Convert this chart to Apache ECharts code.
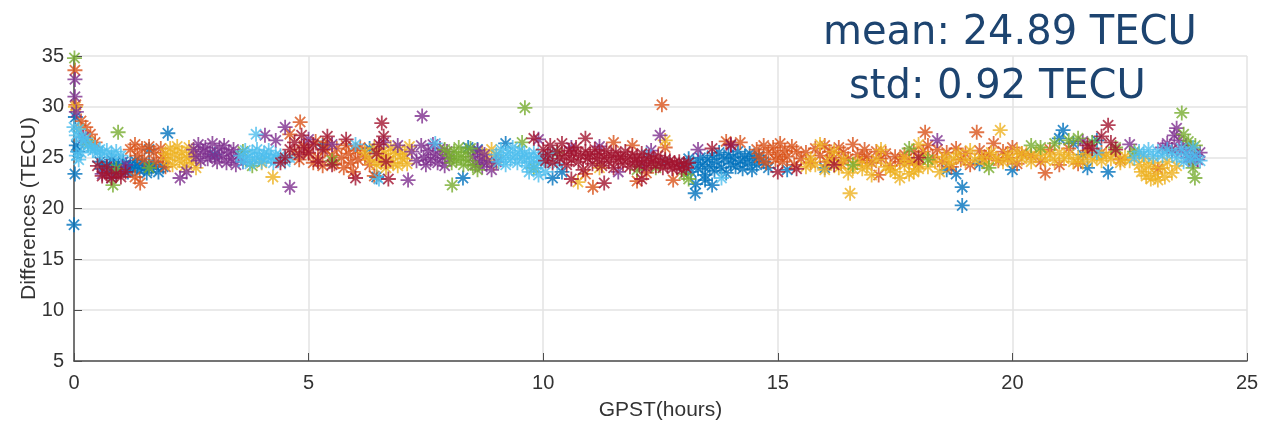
<!DOCTYPE html>
<html>
<head>
<meta charset="utf-8">
<script src="https://cdn.jsdelivr.net/npm/echarts@6/dist/echarts.min.js"></script>
<style>
  html, body { margin: 0; padding: 0; background: #fff; }
  #chart { width: 1263px; height: 426px; }
</style>
</head>
<body>
<div id="chart"></div>
<script>
// [hours, TECU], one list per satellite colour
const blueDots = [
  [0,18.4],[0.02,23.4],[0.03,29.0],[0.05,26.2],[0.08,25.6],
  [0.55,24.6],[0.6,23.9],[0.7,24.3],[0.75,23.6],[0.8,24.8],[0.85,24.0],[0.9,23.5],[0.95,24.4],[1.0,23.8],[1.05,24.6],
  [1.1,24.1],[1.15,23.6],[1.2,24.3],[1.25,23.9],[1.3,24.7],[1.35,24.2],[1.4,23.7],[1.45,24.5],[1.5,24.0],[1.55,23.5],
  [1.6,24.4],[1.65,23.9],[1.7,24.3],[1.8,23.6],[1.9,24.1],
  [2.0,27.4],[1.6,25.8],[3.0,25.3],[5.3,26.2],[6.3,25.9],[6.45,23.1],[8.29,23.0],[8.4,26.0],[8.6,25.8],[9.2,26.4],
  [10.2,23.0],[10.4,23.6],
  [13.0,24.2],[13.1,24.9],[13.15,23.6],[13.2,24.5],[13.24,21.5],[13.25,22.4],[13.3,23.9],[13.35,25.0],[13.4,24.3],
  [13.45,23.3],[13.5,24.8],[13.55,24.1],[13.6,25.2],[13.65,23.7],[13.7,24.6],[13.75,25.5],[13.8,24.0],[13.85,24.9],
  [13.9,23.5],[13.95,25.3],[14.0,24.4],[14.05,25.0],[14.1,24.1],[14.15,25.6],[14.2,24.7],[14.25,23.9],[14.3,25.1],
  [14.35,24.5],[14.4,25.4],[14.45,23.8],[14.5,24.9],[14.55,24.3],[14.6,25.2],[14.7,24.6],[14.8,24.0],[13.45,22.8],[13.6,22.3],
  [15.2,23.8],[16.0,24.0],[18.6,23.8],[18.93,20.3],[18.93,22.1],[18.8,23.4],[19.3,24.4],[20.0,23.8],[21.08,27.7],
  [21.0,26.9],[21.3,26.4],[21.6,24.0],[22.04,23.6],[21.8,26.7],[21.5,25.3]
];
const orangeDots = [
  [0.02,33.6],[0.04,30.2],[0.15,28.6],[0.25,28.0],[0.35,27.3],[0.45,26.5],
  [1.2,25.8],[1.3,26.3],[1.35,25.2],[1.45,25.9],[1.5,24.8],[1.6,26.1],[1.7,25.5],[1.75,24.6],[1.85,25.9],[1.9,25.0],
  [1.41,22.5],[1.3,23.1],[1.95,24.1],
  [4.82,28.5],[4.6,27.3],[4.7,25.6],[4.8,24.8],[4.9,26.2],[5.0,25.4],[5.1,24.5],[5.15,26.6],[5.2,25.0],[5.3,24.2],
  [5.35,25.8],[5.4,26.5],[5.5,25.2],[5.55,24.4],[5.6,25.9],[5.7,25.0],[5.75,24.0],[5.8,26.2],[5.85,25.4],[5.9,24.5],
  [6.0,25.7],[6.05,24.8],[6.1,26.0],[6.2,25.1],[6.3,24.3],[6.4,23.2],[5.95,23.6],
  [11.06,22.1],[10.9,23.4],[12.2,23.5],[12.0,22.7],[12.53,30.2],[12.77,22.8],[11.5,26.5],[11.9,26.2],[12.6,26.0],
  [14.55,25.8],[14.6,25.0],[14.7,26.2],[14.75,24.5],[14.8,25.5],[14.9,26.0],[14.95,24.8],[15.0,25.3],[15.05,26.4],
  [15.1,24.6],[15.15,25.7],[15.2,25.1],[15.3,26.1],[15.35,24.3],[15.4,25.6],[15.5,24.9],[15.6,25.5],[15.7,24.5],
  [15.8,25.9],[15.9,25.2],[16.0,26.2],[16.05,24.6],[16.1,25.6],[16.2,25.0],[16.3,26.0],[16.35,24.4],[16.4,25.5],
  [16.5,24.9],[16.6,26.3],[16.7,25.3],[16.8,24.7],[16.85,25.8],[16.9,25.1],[17.0,24.5],[17.1,25.6],[17.2,24.9],
  [17.3,25.4],[17.4,24.2],[17.5,25.1],[17.6,24.6],[14.2,26.5],[13.9,26.6],[17.15,23.3],
  [17.7,25.3],[17.8,24.6],[17.9,25.6],[18.0,24.4],[18.1,25.6],
  [18.14,27.5],[18.2,26.2],[18.3,25.0],[18.4,25.8],[18.5,24.6],[18.6,25.5],[18.7,24.1],[18.8,25.9],[18.9,24.8],
  [19.0,25.4],[19.1,24.3],[19.24,27.5],[19.3,25.7],[19.4,24.9],[19.5,25.3],[19.6,26.4],[19.7,24.7],[19.8,25.6],
  [19.9,25.0],[20.0,26.0],[20.1,24.4],[20.2,25.4],[20.7,23.5],[20.4,25.2],[20.6,24.6],
  [20.8,25.8],[21.0,24.3],[21.2,25.9],[21.4,24.4],[21.6,25.7],
  [21.9,25.5],[22.3,24.8],[23.4,25.8],[23.1,23.9]
];
const yellowDots = [
  [0.03,30.0],[0.1,27.8],[0.3,26.6],
  [1.95,25.4],[2.0,24.8],[2.05,25.9],[2.1,24.3],[2.15,25.3],[2.2,26.1],[2.25,24.7],[2.3,25.5],[2.35,24.1],[2.4,25.0],
  [2.45,26.0],[2.5,24.5],[2.55,25.3],[2.6,24.0],[4.24,23.1],[4.0,24.5],
  [6.2,25.5],[6.3,24.8],[6.4,25.9],[6.45,24.3],[6.5,25.2],[6.55,24.6],[6.6,25.7],[6.65,24.0],[6.7,25.1],[6.75,26.0],
  [6.8,24.5],[6.85,25.4],[6.9,24.2],[6.95,25.8],[7.0,24.9],[7.05,25.3],[7.1,24.4],[7.15,26.1],
  [8.7,25.4],[8.8,24.9],[8.9,25.8],[9.0,25.2],[8.95,24.4],[10.74,22.6],[11.2,24.0],[12.6,26.7],
  [15.7,24.9],[15.8,24.3],[16.1,24.7],[16.3,24.0],[16.4,24.8],[16.6,23.9],[16.7,24.6],[16.9,24.2],[17.1,24.8],
  [17.4,23.8],[17.7,25.0],[17.9,23.6],
  [15.6,24.1],[16.0,23.8],[16.54,21.5],[16.5,23.5],[16.8,23.9],[17.0,23.3],[17.3,24.1],[17.5,23.6],[17.6,23.0],
  [17.7,24.3],[17.8,23.4],[17.9,24.6],[18.0,23.9],[18.1,25.2],[18.2,24.1],[18.35,24.6],[18.45,23.6],[18.55,25.1],
  [18.65,24.4],[18.75,24.9],[18.85,25.4],[19.0,24.7],[19.1,25.7],[19.2,24.8],[19.35,25.0],[19.45,24.4],[19.55,25.5],
  [19.65,24.9],[19.74,27.7],[19.8,24.6],[19.9,25.3],[20.0,24.7],[20.1,25.6],[20.2,24.9],[20.3,25.4],[20.4,24.6],
  [20.5,25.2],[20.6,25.6],[20.7,24.8],[20.8,25.3],[20.9,24.7],[21.0,25.5],[21.1,24.9],[21.2,25.3],[21.3,24.6],
  [21.4,25.0],[21.5,24.6],[21.6,25.4],[21.7,24.8],[21.8,25.2],[21.9,24.7],[22.0,25.3],[22.1,24.9],[22.2,25.5],
  [22.3,24.5],[22.4,25.1],[22.5,24.7],[22.6,25.4],[22.7,24.3],[22.75,23.6],[22.8,24.9],[22.85,23.2],[22.9,24.1],
  [22.95,22.9],[23.0,24.5],[23.05,23.4],[23.1,22.8],[23.2,24.0],[23.25,23.1],[23.3,24.6],[23.4,23.5],[23.5,24.2],
  [17.2,25.8],[18.0,26.3],[16.2,25.6],[15.9,26.3]
];
const purpleDots = [
  [0.02,32.7],[0.02,31.0],[0.05,29.5],[0.2,27.0],
  [0.6,23.4],[0.8,23.0],[1.0,23.6],[1.1,24.3],
  [2.26,23.0],[2.4,23.6],[2.55,25.8],[2.6,25.1],[2.65,26.3],[2.7,24.7],[2.75,25.6],[2.8,26.0],[2.85,24.9],[2.9,25.4],
  [2.95,26.4],[3.0,25.1],[3.05,24.6],[3.1,25.9],[3.15,25.2],[3.2,26.2],[3.25,24.5],[3.3,25.5],[3.35,24.9],[3.4,25.8],
  [3.45,24.3],[3.5,25.2],[3.6,24.6],
  [4.07,27.2],[4.5,28.0],[4.6,22.1],[4.3,26.7],[5.0,26.8],[5.5,26.3],
  [7.12,22.8],[7.42,29.1],[7.2,25.6],[7.3,24.7],[7.4,26.2],[7.45,25.0],[7.5,24.3],[7.55,25.7],[7.6,24.8],[7.65,26.3],
  [7.7,25.3],[7.75,24.5],[7.8,25.9],[7.85,25.0],[7.9,24.2],[7.95,25.6],[8.0,24.9],[6.6,26.5],[6.9,26.2],
  [8.5,25.1],[8.55,24.3],[8.6,25.7],[8.65,24.7],[8.7,24.1],[8.75,25.3],[8.8,24.5],[8.9,23.8],[9.0,24.6],
  [9.9,26.8],[10.6,26.0],[11.2,26.1],[12.49,27.2],[12.3,25.7],[12.1,24.2],[11.6,23.6],[13.3,25.8],[14.0,26.2],
  [23.5,27.9],[23.45,27.2],[23.3,26.4],[23.4,25.8],[23.55,26.7],[23.6,25.6],[23.7,26.2],[23.75,25.0],[23.8,25.8],
  [23.85,24.6],[23.9,25.3],[23.95,24.8],[24.0,25.5],[23.2,26.0],[22.5,26.3],[21.5,26.6],[18.4,26.7]
];
const greenDots = [
  [0.01,34.8],[0.3,26.3],[0.94,27.5],[0.83,22.3],[0.9,23.9],[1.6,24.0],[3.6,25.6],[3.8,24.2],[5.5,24.7],
  [7.9,25.8],[8.0,25.2],[8.05,24.5],[8.1,25.6],[8.15,24.8],[8.2,26.0],[8.25,25.1],[8.3,24.3],[8.35,25.5],[8.4,24.7],
  [8.45,25.9],[8.5,24.2],[8.06,22.3],[8.6,23.8],
  [9.61,29.9],[9.55,26.5],[9.8,24.0],[10.3,25.5],[12.0,23.8],[12.4,24.0],[13.0,23.4],[13.1,22.9],
  [16.6,24.3],[17.8,25.9],[18.2,24.8],[19.5,24.0],[20.4,26.2],[20.6,26.0],[20.9,26.4],[21.2,26.7],[21.4,26.9],
  [21.7,26.5],[22.2,26.0],[22.6,25.6],[23.61,29.4],[23.65,27.3],[23.89,23.0],[23.85,24.0],[23.75,26.6],[23.9,26.2]
];
const lightBlueDots = [
  [0,28.0],[0.05,27.2],[0.1,27.8],[0.15,27.0],[0.2,26.6],[0.25,26.9],[0.3,26.2],[0.35,26.0],[0.4,25.7],[0.45,26.0],
  [0.5,25.5],[0.55,25.8],[0.6,25.4],[0.7,25.7],[0.8,25.3],[0.9,25.6],[1.0,25.2],[0.05,25.2],[0.1,24.8],[0.15,25.5],
  [3.55,25.2],[3.6,24.6],[3.65,25.7],[3.7,25.0],[3.75,24.4],[3.8,25.5],[3.85,24.8],[3.88,27.3],[3.9,25.8],[3.95,25.1],
  [4.0,24.6],[4.05,25.4],[4.1,24.9],[4.15,25.7],[4.2,25.0],[4.25,24.5],[4.3,25.3],[4.35,24.8],[4.4,25.2],[4.5,24.6],[4.6,25.0],
  [6.0,26.3],[6.5,22.9],[7.7,26.4],
  [9.0,25.3],[9.05,24.6],[9.1,25.8],[9.15,25.0],[9.2,24.3],[9.25,25.5],[9.3,24.8],[9.35,26.0],[9.4,25.2],[9.45,24.5],
  [9.5,25.7],[9.55,24.9],[9.6,25.4],[9.65,24.2],[9.7,25.1],[9.75,24.6],[9.8,25.5],[9.85,24.0],[9.9,25.0],[9.95,24.5],
  [10.0,25.2],[10.05,23.6],[10.1,24.7],[10.2,25.5],[10.3,24.4],[9.7,23.6],[9.9,23.3],
  [12.2,25.3],[12.6,24.6],[13.1,24.3],[13.8,23.0],
  [22.6,25.0],[22.7,25.6],[22.8,25.3],[22.9,25.8],[23.0,25.1],[23.1,25.6],[23.2,25.2],[23.3,25.8],[23.4,25.4],
  [23.5,25.0],[23.6,25.9],[23.65,24.6],[23.7,25.4],[23.8,24.8],[23.85,26.0],[23.9,25.2],[24.0,24.7],[21.8,25.5]
];
const darkRedDots = [
  [0.5,24.2],[0.6,23.2],[0.7,23.5],[0.8,23.0],[0.9,23.4],[1.0,23.1],[1.1,23.6],[0.7,24.1],
  [4.5,25.0],[4.6,25.8],[4.7,26.5],[4.8,25.3],[4.85,27.2],[4.9,26.0],[5.0,25.5],[5.1,26.3],[5.2,24.6],[5.3,25.8],
  [5.4,27.1],[5.5,24.3],[4.4,24.5],
  [6.56,28.4],[6.5,26.3],[6.45,25.4],[6.6,27.1],[6.65,24.6],[6.7,22.9],[5.8,26.8],[6.0,23.0],
  [10.0,25.8],[10.05,24.7],[10.1,25.3],[10.15,26.2],[10.2,24.5],[10.3,25.6],[10.35,24.9],[10.4,26.4],[10.45,25.2],
  [10.5,24.3],[10.55,25.7],[10.6,24.8],[10.65,25.4],[10.7,26.0],[10.75,24.6],[10.8,25.2],[10.85,23.8],[10.9,25.6],
  [10.95,24.9],[11.0,25.3],[11.05,24.4],[11.1,25.8],[11.15,24.9],[11.2,25.4],[11.25,24.2],[11.3,25.0],[11.35,25.7],
  [11.4,24.6],[11.45,25.2],[11.5,24.0],[11.55,25.5],[11.6,24.8],[11.65,25.1],[11.7,24.4],[11.75,25.6],[11.8,24.9],
  [11.85,24.1],[11.9,25.3],[11.95,24.6],[12.0,25.0],[12.05,24.3],[12.1,25.4],[12.15,24.7],[12.2,24.0],[12.25,25.1],
  [12.3,24.5],[12.35,24.9],[12.4,24.2],[12.45,25.2],[12.5,24.6],[12.55,24.0],[12.6,24.8],[12.65,24.3],[12.7,24.7],
  [12.75,23.9],[12.8,24.5],[12.85,24.1],[12.9,24.6],[12.95,23.8],[13.0,24.4],[13.05,24.0],[13.1,24.5],
  [10.9,26.9],[11.3,22.5],[9.8,26.9],[10.6,22.9],[12.1,22.9],
  [14.0,26.3],[13.6,25.9],[15.0,23.6],[16.2,24.3],[18.0,25.0],[21.6,26.2],[21.9,27.1],[22.04,28.2],[22.1,26.5],
  [22.2,25.8],[21.7,25.9],[15.4,23.9]
];

const groups = [
  { data: blueDots, color: '#0072BD' },
  { data: orangeDots, color: '#D95319' },
  { data: yellowDots, color: '#EDB120' },
  { data: purpleDots, color: '#7E2F8E' },
  { data: greenDots, color: '#77AC30' },
  { data: lightBlueDots, color: '#4DBEEE' },
  { data: darkRedDots, color: '#A2142F' }
];

// matlab style '*' marker, drawn as strokes
const star = 'path://M5 0L5 10M0 5L10 5M1.6 1.6L8.4 8.4M8.4 1.6L1.6 8.4';

const axisFont = { fontFamily: 'Liberation Sans', fontSize: 20, color: '#333' };
const noteFont = { fontFamily: 'DejaVu Sans', fontSize: 40, fill: '#1d4470' };

const option = {
  animation: false,
  grid: { left: 74, right: 16, top: 56, bottom: 65 },
  graphic: [
    { type: 'text', left: 823, top: 14, z: 10, style: { text: 'mean: 24.89 TECU', ...noteFont } },
    { type: 'text', left: 849, top: 68, z: 10, style: { text: 'std: 0.92 TECU', ...noteFont } }
  ],
  xAxis: {
    type: 'value', min: 0, max: 25, interval: 5,
    name: 'GPST(hours)', nameLocation: 'middle', nameGap: 39,
    nameTextStyle: { ...axisFont, fontSize: 21 },
    axisLine: { lineStyle: { color: '#4d4d4d', width: 1.5 } },
    axisTick: { inside: true, length: 8, lineStyle: { color: '#4d4d4d' } },
    axisLabel: { ...axisFont, margin: 12 },
    splitLine: { show: true, lineStyle: { color: '#e3e3e3', width: 1.5 } }
  },
  yAxis: {
    type: 'value', min: 5, max: 35, interval: 5,
    name: 'Differences (TECU)', nameLocation: 'middle', nameGap: 34, nameMoveOverlap: false,
    nameTextStyle: { ...axisFont, fontSize: 21 },
    axisLine: { show: true, lineStyle: { color: '#4d4d4d', width: 1.5 } },
    axisTick: { show: true, inside: true, length: 8, lineStyle: { color: '#4d4d4d' } },
    axisLabel: { ...axisFont, margin: 10 },
    splitLine: { show: true, lineStyle: { color: '#e3e3e3', width: 1.5 } }
  },
  series: groups.map(g => ({
    type: 'scatter',
    data: g.data,
    symbol: star,
    symbolSize: 15,
    itemStyle: { color: 'rgba(0,0,0,0)', borderColor: g.color, borderWidth: 1.8 },
    emphasis: { disabled: true }
  }))
};

const chart = echarts.init(document.getElementById('chart'));
chart.setOption(option);
</script>
</body>
</html>
